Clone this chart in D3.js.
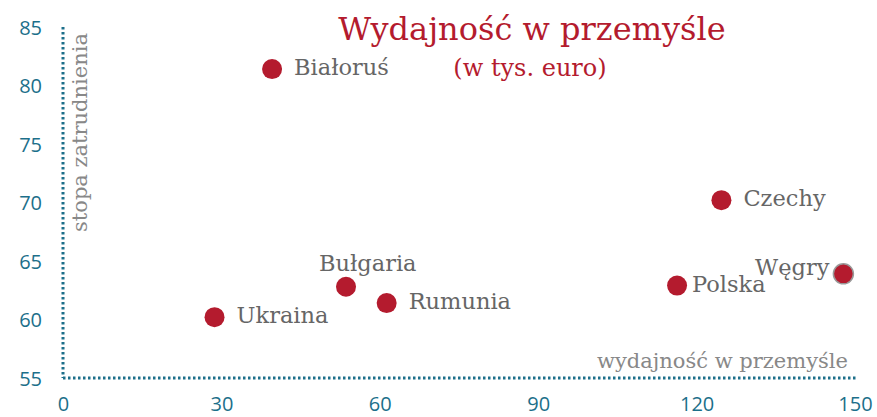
<!DOCTYPE html>
<html>
<head>
<meta charset="utf-8">
<script src="https://cdn.jsdelivr.net/npm/d3@7"></script>
<style>
  body { margin: 0; background: #fff; }
  svg { display: block; }
</style>
</head>
<body>
<script>
// chart size
var w = 877;
var h = 417;

// data
var countries = ["Białoruś", "Ukraina", "Bułgaria", "Rumunia", "Czechy", "Polska", "Węgry"];
var productivity = [39.6, 28.7, 53.6, 61.3, 124.7, 116.3, 147.8];
var employment = [81.4, 60.2, 62.8, 61.4, 70.2, 62.9, 63.9];
var labelSide = ["right", "right", "top", "right", "right", "near", "left"];
var xTicks = [0, 30, 60, 90, 120, 150];
var yTicks = [55, 60, 65, 70, 75, 80, 85];

var teal = "#1c6f8a";
var red = "#b41b2e";
var grey = "#666";
var serif = "'DejaVu Serif', serif";

var x = d3.scaleLinear().domain([0, 150]).range([63, 855]);
var y = d3.scaleLinear().domain([55, 85]).range([378, 27]);

var svg = d3.select("body")
    .append("svg")
    .attr("width", w)
    .attr("height", h);

// dotted axes
svg.append("line")
    .attr("x1", x(0)).attr("x2", x(0))
    .attr("y1", y(85)).attr("y2", y(55))
    .attr("stroke", teal).attr("stroke-width", 3)
    .attr("stroke-dasharray", "2.5,2.5");
svg.append("line")
    .attr("x1", x(0)).attr("x2", 858)
    .attr("y1", y(55)).attr("y2", y(55))
    .attr("stroke", teal).attr("stroke-width", 3)
    .attr("stroke-dasharray", "2.5,2.5");

// tick labels via d3 axes, with the domain and tick lines hidden
var yAxis = svg.append("g")
    .attr("transform", "translate(42,0)")
    .call(d3.axisLeft(y).tickValues(yTicks).tickSize(0).tickPadding(0));
var xAxis = svg.append("g")
    .attr("transform", "translate(0," + (y(55) + 19) + ")")
    .call(d3.axisBottom(x).tickValues(xTicks).tickSize(0).tickPadding(0));

[xAxis, yAxis].forEach(function(g) {
    g.select(".domain").remove();
    g.selectAll("text")
        .attr("fill", teal)
        .style("font-family", "'Open Sans', sans-serif")
        .style("font-size", "20px");
});
yAxis.selectAll("text").attr("dy", "0.36em");
xAxis.selectAll("text").attr("dy", "0.72em");

// axis titles
svg.append("text")
    .attr("transform", "translate(87,33) rotate(-90)")
    .attr("text-anchor", "end")
    .attr("fill", "#888")
    .style("font-family", serif)
    .style("font-size", "21px")
    .text("stopa zatrudnienia");

svg.append("text")
    .attr("x", 848).attr("y", 368)
    .attr("text-anchor", "end")
    .attr("fill", "#888")
    .style("font-family", serif)
    .style("font-size", "21px")
    .text("wydajność w przemyśle");

// title
svg.append("text")
    .attr("x", 532).attr("y", 40)
    .attr("text-anchor", "middle")
    .attr("fill", red)
    .style("font-family", serif)
    .style("font-size", "32px")
    .text("Wydajność w przemyśle");
svg.append("text")
    .attr("x", 530).attr("y", 76)
    .attr("text-anchor", "middle")
    .attr("fill", red)
    .style("font-family", serif)
    .style("font-size", "24px")
    .text("(w tys. euro)");

// points
var rows = countries.map(function(c, i) {
    return { name: c, px: productivity[i], py: employment[i], side: labelSide[i] };
});

svg.selectAll("circle.pt")
    .data(rows)
    .enter()
    .append("circle")
    .attr("class", "pt")
    .attr("cx", function(d) { return x(d.px); })
    .attr("cy", function(d) { return y(d.py); })
    .attr("r", 10)
    .attr("fill", red)
    .attr("stroke", function(d) { return d.side === "left" ? "#999" : "none"; })
    .attr("stroke-width", 1.5);

svg.selectAll("text.lbl")
    .data(rows)
    .enter()
    .append("text")
    .attr("class", "lbl")
    .attr("x", function(d) {
        if (d.side === "left") return x(d.px) - 14;
        if (d.side === "top") return x(d.px) - 27;
        if (d.side === "near") return x(d.px) + 15;
        return x(d.px) + 22;
    })
    .attr("y", function(d) {
        if (d.side === "left") return y(d.py) + 1;
        if (d.side === "top") return y(d.py) - 16;
        return y(d.py) + 6;
    })
    .attr("text-anchor", function(d) { return d.side === "left" ? "end" : "start"; })
    .attr("fill", grey)
    .style("font-family", serif)
    .style("font-size", "22.5px")
    .text(function(d) { return d.name; });
</script>
</body>
</html>
